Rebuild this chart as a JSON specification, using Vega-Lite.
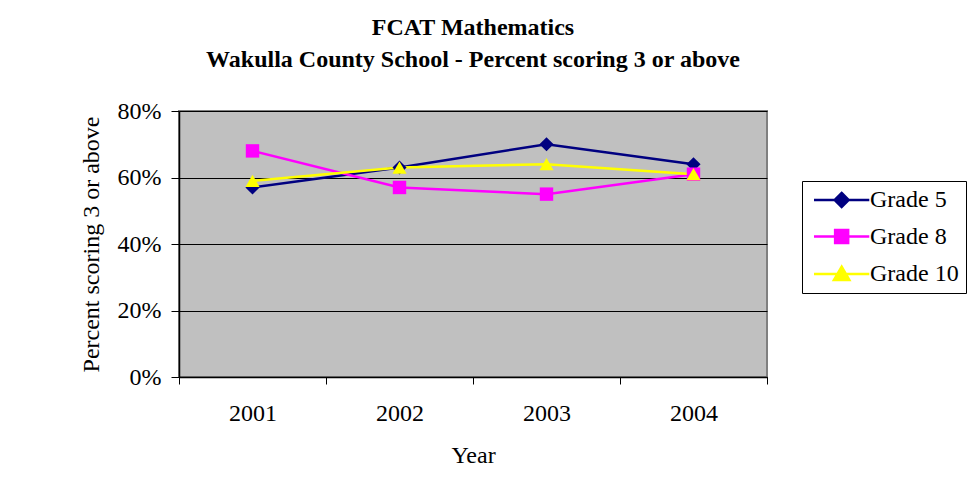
{
  "$schema": "https://vega.github.io/schema/vega-lite/v6.json",
  "width": 588,
  "height": 266,
  "autosize": {"type": "none"},
  "padding": {"left": 179, "top": 111, "right": 202, "bottom": 118},
  "background": "white",
  "title": {
    "text": ["FCAT Mathematics", "Wakulla County School - Percent scoring 3 or above"],
    "font": "Liberation Serif",
    "fontSize": 24,
    "fontWeight": "bold",
    "color": "black",
    "lineHeight": 32,
    "anchor": "middle",
    "offset": 27
  },
  "data": {
    "values": [
      {"year": "2001", "series": "Grade 5", "value": 0.57},
      {"year": "2002", "series": "Grade 5", "value": 0.63},
      {"year": "2003", "series": "Grade 5", "value": 0.70},
      {"year": "2004", "series": "Grade 5", "value": 0.64},
      {"year": "2001", "series": "Grade 8", "value": 0.68},
      {"year": "2002", "series": "Grade 8", "value": 0.57},
      {"year": "2003", "series": "Grade 8", "value": 0.55},
      {"year": "2004", "series": "Grade 8", "value": 0.61},
      {"year": "2001", "series": "Grade 10", "value": 0.59},
      {"year": "2002", "series": "Grade 10", "value": 0.63},
      {"year": "2003", "series": "Grade 10", "value": 0.64},
      {"year": "2004", "series": "Grade 10", "value": 0.61}
    ]
  },
  "encoding": {
    "x": {
      "field": "year",
      "type": "ordinal",
      "scale": {"type": "band", "paddingInner": 0, "paddingOuter": 0},
      "axis": {
        "title": "Year",
        "labelAngle": 0,
        "tickBand": "extent",
        "tickSize": 7,
        "labelPadding": 17,
        "titlePadding": 18
      }
    },
    "y": {
      "field": "value",
      "type": "quantitative",
      "scale": {"domain": [0, 0.8], "nice": false},
      "axis": {
        "title": "Percent scoring 3 or above",
        "format": ".0%",
        "values": [0, 0.2, 0.4, 0.6, 0.8],
        "grid": true,
        "tickSize": 8,
        "labelPadding": 10,
        "titlePadding": 14
      }
    },
    "color": {
      "field": "series",
      "type": "nominal",
      "scale": {"domain": ["Grade 5", "Grade 8", "Grade 10"], "range": ["#000080", "#FF00FF", "#FFFF00"]},
      "legend": {
        "title": null,
        "orient": "none",
        "legendX": 623,
        "legendY": 70,
        "symbolSize": 196,
        "symbolStrokeWidth": 2.5,
        "labelOffset": 37,
        "rowPadding": 12.5,
        "padding": 7,
        "strokeColor": "black",
        "fillColor": "white",
        "labelFont": "Liberation Serif",
        "labelFontSize": 24,
        "labelColor": "black",
        "symbolOpacity": 1,
        "encode": {
          "symbols": {
            "update": {
              "shape": {"signal": "datum.value === 'Grade 5' ? 'M-1,0H6.9M2.95,-1L3.95,0L2.95,1L1.95,0Z' : datum.value === 'Grade 8' ? 'M-1,0H6.9M2.02,-0.93H3.88V0.93H2.02Z' : 'M-1,0H6.9M2.95,-1.05L4.05,0.85H1.85Z'"},
              "fill": {"scale": "color", "field": "value"},
              "stroke": {"scale": "color", "field": "value"},
              "strokeWidth": {"value": 2.5}
            }
          }
        }
      }
    }
  },
  "layer": [
    {
      "mark": {"type": "line", "strokeWidth": 2.5}
    },
    {
      "transform": [{"filter": "datum.series === 'Grade 5'"}],
      "mark": {"type": "point", "filled": true, "opacity": 1, "size": 200, "shape": "diamond"}
    },
    {
      "transform": [{"filter": "datum.series === 'Grade 8'"}],
      "mark": {"type": "point", "filled": true, "opacity": 1, "size": 180, "shape": "square"}
    },
    {
      "transform": [{"filter": "datum.series === 'Grade 10'"}],
      "mark": {"type": "point", "filled": true, "opacity": 1, "size": 200, "shape": "triangle-up"}
    }
  ],
  "config": {
    "view": {"fill": "#C0C0C0", "stroke": "#808080", "strokeWidth": 2},
    "axis": {
      "labelFont": "Liberation Serif",
      "titleFont": "Liberation Serif",
      "labelFontSize": 24,
      "titleFontSize": 24,
      "titleFontWeight": "normal",
      "labelColor": "black",
      "titleColor": "black",
      "domainColor": "black",
      "domainWidth": 1.5,
      "tickColor": "black",
      "tickWidth": 1,
      "gridColor": "black",
      "gridWidth": 1,
      "gridOpacity": 1
    }
  }
}
